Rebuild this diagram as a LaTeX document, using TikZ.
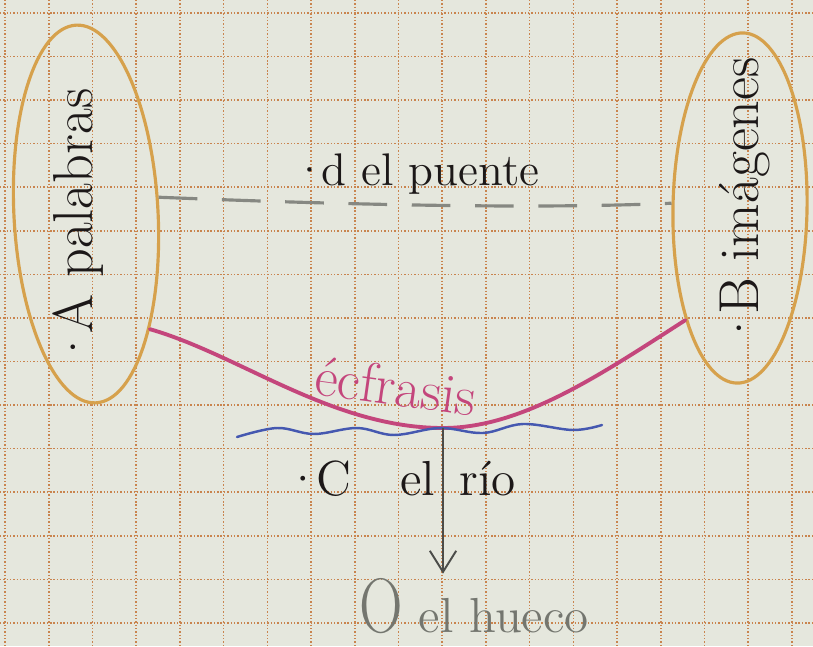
\documentclass[tikz,border=0pt]{standalone}
\usepackage{fontspec}
\usepackage{graphicx}
\usetikzlibrary{shapes.geometric,arrows.meta}
\definecolor{papel}{HTML}{E5E7DD}
\definecolor{cuadro}{HTML}{C9844E}
\definecolor{lapizoro}{HTML}{D6A14C}
\definecolor{rosa}{HTML}{C4467C}
\definecolor{azul}{HTML}{4558B0}
\definecolor{gris}{HTML}{868882}
\definecolor{grisoscuro}{HTML}{4B4C49}
\definecolor{grishueco}{HTML}{74766F}
\definecolor{tinta}{HTML}{1C1818}

\begin{document}
\begin{tikzpicture}[x=.01cm,y=-.01cm,
  gridline/.style={cuadro,line width=.45pt,dash pattern=on .4pt off .55pt},
  oval/.style={draw=lapizoro,line width=.9pt,ellipse,inner sep=0pt},
  tinta16/.style={text=tinta,font=\fontsize{16}{16}\selectfont},
  tinta14/.style={text=tinta,font=\fontsize{14}{14}\selectfont}]
\fill[papel] (0,0) rectangle (813,646);
\useasboundingbox (0,0) rectangle (813,646);
\foreach \k in {0,...,18}
  \draw[gridline] ({5+43.72*\k},0)--({5+43.72*\k},646);
\foreach \k in {0,...,14}
  \draw[gridline] (0,{13+43.57*\k})--(813,{13+43.57*\k});
% the two ovals
\node[oval,minimum width=3.78cm,minimum height=1.44cm,rotate=93] (ellA) at (86,214) {};
\node[oval,minimum width=3.50cm,minimum height=1.34cm,rotate=89] (ellB) at (740,208) {};
\node[tinta16,rotate=90] (palabras) at (78,228) {·\kern-.12em A palabras};
\node[tinta16,rotate=90] (imagenes) at (745,203) {·\kern-.12em B imágenes};
% the bridge
\draw[gris,line width=.9pt,dash pattern=on 11pt off 7pt] (ellA.-80) .. controls (300,203) and (520,210) .. (ellB.87);
\node[tinta14,font=\fontsize{13}{13}\selectfont,anchor=base west] (puente) at (280,186) {·\kern-.12em d el puente};
% ekphrasis
\draw[rosa,line width=1.1pt,line cap=round] (ellA.-154) .. controls (240,355) and (332,428) .. (443,428) coordinate (fondo)
                                            .. controls (522,428) and (600,375) .. (ellB.155);
\node[text=rosa,font=\fontsize{16}{16}\selectfont,rotate=-8] (ecfrasis) at (396,386) {écfrasis};
% the river
\draw[azul,line width=.7pt,line cap=round] plot[smooth,tension=.6] coordinates {(237,437) (277,428) (314,434) (357,428) (394,435) (440,428) (483,433) (523,424) (573,430) (602,425)};
\node[tinta14,anchor=base west] (rio) at (272,495) {·\kern-.12em C\quad el\enspace río};
% the hollow
\node[text=grishueco,font=\fontsize{14}{14}\selectfont,anchor=base west,inner sep=1pt] (hueco) at (355,632) {\scalebox{.78}[1]{\fontsize{22}{22}\selectfont O}\ el hueco};
\draw[grisoscuro,line width=.55pt,-{Straight Barb[length=6pt,width=7.5pt]}] (fondo) -- (fondo |- hueco.north);
\end{tikzpicture}
\end{document}
